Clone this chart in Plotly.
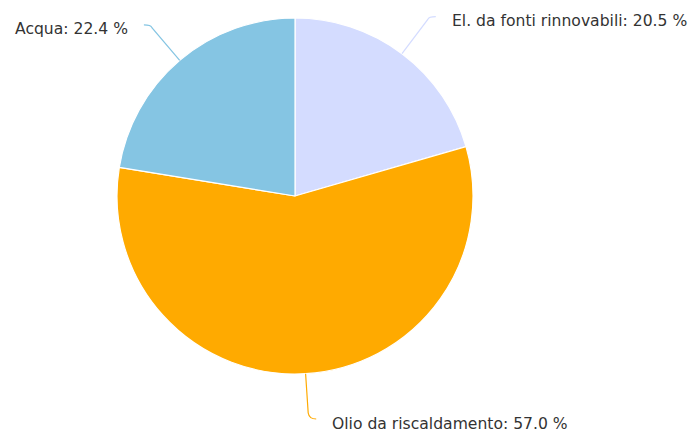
import math
import plotly.graph_objects as go

categories = ["El. da fonti rinnovabili", "Olio da riscaldamento", "Acqua"]
values = [20.5, 57.0, 22.4]
colors = ["#d4dcff", "#ffaa00", "#85c5e3"]

W, H = 695, 432
CX, CY, R = 295, 196, 178
RP = 221  # connector bend radius

fig = go.Figure()
fig.add_trace(go.Pie(
    labels=categories, values=values, sort=False, direction="clockwise", rotation=0,
    marker=dict(colors=colors, line=dict(color="white", width=1.2)),
    textinfo="none", hoverinfo="label+percent", showlegend=False,
    domain=dict(x=[(CX - R) / W, (CX + R) / W], y=[(H - CY - R) / H, (H - CY + R) / H]),
))

total = sum(values)
cum = 0.0
shapes, annotations = [], []
for cat, v, col in zip(categories, values, colors):
    mid = (cum + v / 2) / total * 2 * math.pi
    cum += v
    s, c = math.sin(mid), -math.cos(mid)
    ex, ey = CX + R * s, CY + R * c
    px, py = CX + RP * s, CY + RP * c
    sgn = 1 if s >= 0 else -1
    ax_, ay_ = px + sgn * 8, py + c * 3.5
    if ay_ > 419:
        py = min(py, 413)
        ay_ = 419
    path = (f"M {ex:.1f},{ey:.1f} L {px:.1f},{py:.1f} "
            f"Q {px + sgn * 1:.1f},{ay_:.1f} {ax_:.1f},{ay_:.1f}")
    shapes.append(dict(type="path", path=path, xref="x", yref="y",
                       line=dict(color=col, width=1.2)))
    annotations.append(dict(
        x=ax_ + sgn * 14, y=ay_ + 4.5, xref="x", yref="y",
        text=f"{cat}: {v:.1f} %", showarrow=False,
        xanchor="left" if sgn > 0 else "right", yanchor="middle",
        font=dict(family="DejaVu Sans", size=15.6, color="#333333"),
    ))

fig.update_layout(
    width=W, height=H, margin=dict(l=0, r=0, t=0, b=0),
    paper_bgcolor="white", plot_bgcolor="rgba(0,0,0,0)",
    xaxis=dict(range=[0, W], visible=False, fixedrange=True),
    yaxis=dict(range=[H, 0], visible=False, fixedrange=True),
    shapes=shapes, annotations=annotations,
)
fig.write_html("out.html", config={"displayModeBar": False},
               post_script="document.body.style.margin='0';document.body.style.padding='0';")
